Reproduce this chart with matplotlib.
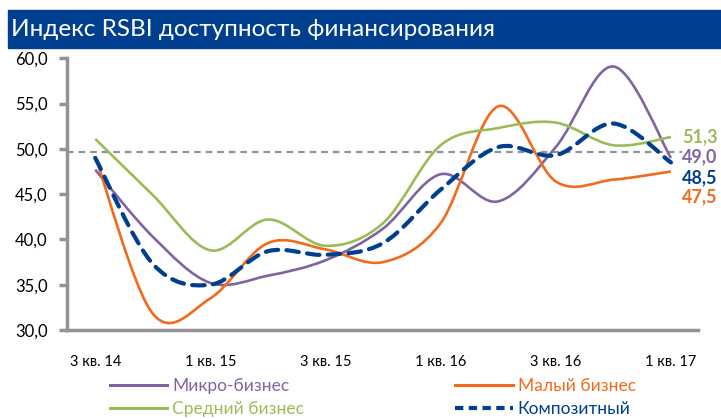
import numpy as np
import matplotlib.pyplot as plt
from matplotlib.path import Path
from matplotlib.patches import PathPatch, Rectangle
from matplotlib.lines import Line2D

plt.rcParams['font.family'] = ['Lato', 'DejaVu Sans']

# данные
quarters = ['3 кв. 14', '4 кв. 14', '1 кв. 15', '2 кв. 15', '3 кв. 15', '4 кв. 15',
            '1 кв. 16', '2 кв. 16', '3 кв. 16', '4 кв. 16', '1 кв. 17']
micro = [47.7, 40.3, 35.2, 36.0, 37.7, 41.2, 47.2, 44.2, 50.2, 59.1, 49.0]
small = [49.2, 31.8, 33.5, 39.6, 38.9, 37.5, 41.8, 54.7, 46.4, 46.6, 47.5]
medium = [51.1, 44.9, 38.8, 42.2, 39.3, 41.8, 50.4, 52.3, 52.9, 50.4, 51.3]
composite = [49.0, 37.3, 35.0, 38.7, 38.3, 39.6, 45.5, 50.2, 49.3, 52.8, 48.5]
threshold = 49.7

c_micro = '#8064A2'
c_small = '#F26A1B'
c_medium = '#9BBB59'
c_comp = '#003E8F'
c_grey = '#939393'


# сглаженная линия как в Excel (Безье через точки)
def smooth_path(y):
    x = np.arange(len(y), dtype=float)
    pts = np.column_stack([x, np.asarray(y, dtype=float)])
    p = np.vstack([pts[0], pts, pts[-1]])
    verts = [pts[0]]
    codes = [Path.MOVETO]
    for i in range(1, len(p) - 2):
        c1 = p[i] + (p[i + 1] - p[i - 1]) / 6
        c2 = p[i + 1] - (p[i + 2] - p[i]) / 6
        verts += [c1, c2, p[i + 1]]
        codes += [Path.CURVE4] * 3
    return Path(verts, codes)


fig = plt.figure(figsize=(7.21, 4.19), dpi=100)
W, H = 721, 419

# заголовок
fig.patches.append(Rectangle((8 / W, 1 - 48 / H), 1 - 8 / W, 38 / H,
                             transform=fig.transFigure, color='#003F8F', zorder=0))
fig.text(11 / W, 1 - 29 / H, 'Индекс RSBI доступность финансирования',
         color='white', fontsize=17.5, va='center', ha='left')

ax = fig.add_axes([67 / W, 1 - 330 / H, (698 - 67) / W, (330 - 58.3) / H])
ax.set_xlim(-0.49, 10.47)
ax.set_ylim(30, 60)

ax.axhline(threshold, xmin=0, xmax=(682 - 67) / (698 - 67), color=c_grey,
           lw=1.6, dashes=(3, 2.2), zorder=1)

series = [(micro, c_micro, 1.9, '-'), (small, c_small, 1.9, '-'),
          (medium, c_medium, 1.9, '-'), (composite, c_comp, 3.0, '--')]
for vals, col, lw, ls in series:
    patch = PathPatch(smooth_path(vals), fill=False, edgecolor=col, lw=lw,
                      transform=ax.transData, zorder=3, capstyle='butt')
    if ls == '--':
        patch.set_linestyle((0, (3, 2)))
        patch.set_capstyle('round')
    ax.add_patch(patch)

# подписи последних значений
end_labels = [(medium, c_medium, 0), (micro, c_micro, 1), (composite, c_comp, -15), (small, c_small, -25)]
for vals, col, dy in end_labels:
    ax.annotate(f'{vals[-1]:.1f}'.replace('.', ','), xy=(len(vals) - 1, vals[-1]),
                xytext=(11, dy), textcoords='offset pixels', color=col,
                fontsize=13, fontweight='bold', va='center', ha='left',
                annotation_clip=False)

for side in ['top', 'right']:
    ax.spines[side].set_visible(False)
for side in ['left', 'bottom']:
    ax.spines[side].set_color(c_grey)
    ax.spines[side].set_linewidth(2.5)

ax.set_yticks(np.arange(30, 61, 5))
ax.set_yticklabels([f'{v:.1f}'.replace('.', ',') for v in np.arange(30, 61, 5)], fontsize=12)
ax.tick_params(axis='y', length=6, width=2.5, color=c_grey, pad=8)
ticks = np.arange(0, len(quarters), 2)
ax.set_xticks(ticks)
ax.set_xticklabels([quarters[i] for i in ticks], fontsize=10.5)
ax.tick_params(axis='x', length=0, pad=18)

handles = [Line2D([], [], color=c_micro, lw=2.2),
           Line2D([], [], color=c_medium, lw=2.2),
           Line2D([], [], color=c_small, lw=2.2),
           Line2D([], [], color=c_comp, lw=3.0, ls=(0, (2, 1.3)))]
labels = ['Микро-бизнес', 'Средний бизнес', 'Малый бизнес', 'Композитный']
fig.legend(handles, labels, ncol=2, frameon=False, loc='upper left',
           bbox_to_anchor=(101 / W, 1 - 369 / H), fontsize=12.5, labelcolor='linecolor',
           handlelength=3.3, handletextpad=0.3, columnspacing=8.7,
           labelspacing=0.45, borderpad=0)

fig.savefig('out.png', dpi=100)
